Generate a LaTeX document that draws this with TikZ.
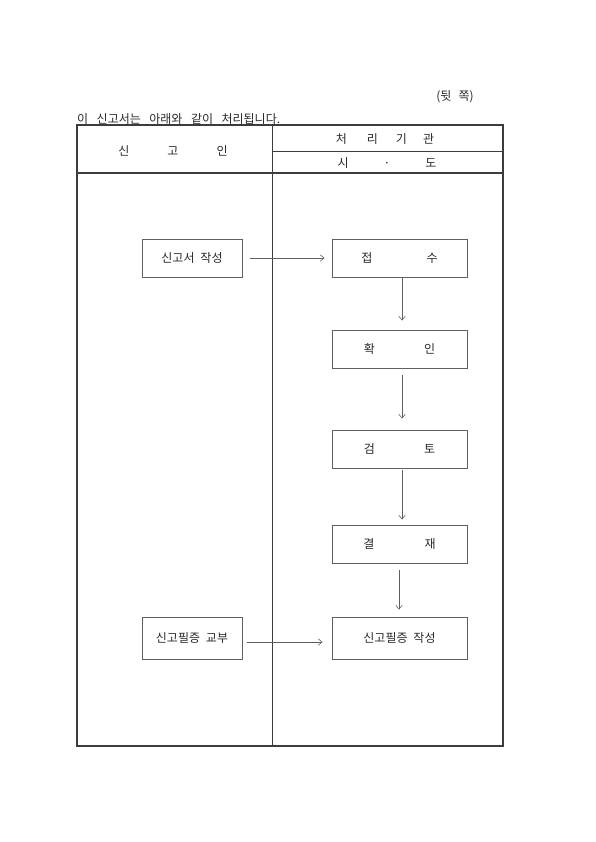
\documentclass[tikz,border=0pt]{standalone}
\usepackage{fontspec}
\setmainfont{Noto Sans CJK KR}[WordSpace=2.2]
\usetikzlibrary{arrows.meta}
\definecolor{framecol}{RGB}{60,60,60}
\definecolor{boxcol}{RGB}{95,95,95}
\definecolor{txtcol}{RGB}{40,40,40}
\tikzset{
  box/.style={draw=boxcol, line width=0.8pt, inner sep=0pt, text=txtcol, font=\fontsize{12pt}{14pt}\selectfont},
  lbox/.style={box, minimum width=100pt, minimum height=38pt},
  rbox/.style={box, minimum width=135pt, minimum height=38pt},
  lbl/.style={inner sep=0pt, text=txtcol, font=\fontsize{12pt}{14pt}\selectfont},
  arr/.style={draw=boxcol, line width=0.6pt, -{Straight Barb[length=4pt,width=6.5pt]}},
}
\begin{document}
\begin{tikzpicture}[x=1pt,y=-1pt]
\useasboundingbox (0,0) rectangle (595,842);
% page texts
\node[lbl] (back) at (455,97) {(뒷\hspace{7pt}쪽)};
\node[lbl, anchor=west] (intro) at (77,119) {이\hspace{8.5pt}신고서는\hspace{8.5pt}아래와\hspace{8.5pt}같이\hspace{8.5pt}처리됩니다.};
% table frame
\draw[framecol, line width=0.8pt] (272,125) -- (272,746);
\draw[framecol, line width=0.7pt] (272,151) -- (503,151);
\draw[framecol, line width=1.1pt] (77,173) -- (503,173);
\draw[framecol, line width=1.4pt] (77,125) rectangle (503,746);
% header texts
\node[lbl] (applicant) at (173,151) {신\hspace{38pt}고\hspace{38pt}인};
\node[lbl] (agency) at (385,139) {처\hspace{20pt}리\hspace{18pt}기\hspace{16pt}관};
\node[lbl] (sido) at (387,163) {시\hspace{35pt}·\hspace{35pt}도};
% boxes
\node[lbox] (write) at (192,258) {신고서 작성};
\node[rbox] (recv) at (399.5,258) {접\hspace{54pt}수};
\node[rbox] (check) at (399.5,349) {확\hspace{49pt}인};
\node[rbox] (review) at (399.5,449) {검\hspace{49pt}토};
\node[rbox] (approve) at (399.5,544) {결\hspace{50pt}재};
\node[lbox, minimum height=42pt] (issue) at (192,638) {신고필증 교부};
\node[rbox, minimum height=42pt] (make) at (399.5,638) {신고필증 작성};
% arrows
\draw[arr, shorten <=8pt, shorten >=7pt] (write.east) -- (recv.west);
\draw[arr, shorten <=0pt, shorten >=9pt] ([xshift=2.5pt]recv.south) -- ([xshift=2.5pt]check.north);
\draw[arr, shorten <=7pt, shorten >=11pt] ([xshift=2.5pt]check.south) -- ([xshift=2.5pt]review.north);
\draw[arr, shorten <=2pt, shorten >=5pt] ([xshift=2.5pt]review.south) -- ([xshift=2.5pt]approve.north);
\draw[arr, shorten <=7pt, shorten >=7pt] ([xshift=-0.5pt]approve.south) -- ([xshift=-0.5pt]make.north);
\draw[arr, shorten <=5pt, shorten >=9pt] ([yshift=-4pt]issue.east) -- ([yshift=-4pt]make.west);
\end{tikzpicture}
\end{document}
